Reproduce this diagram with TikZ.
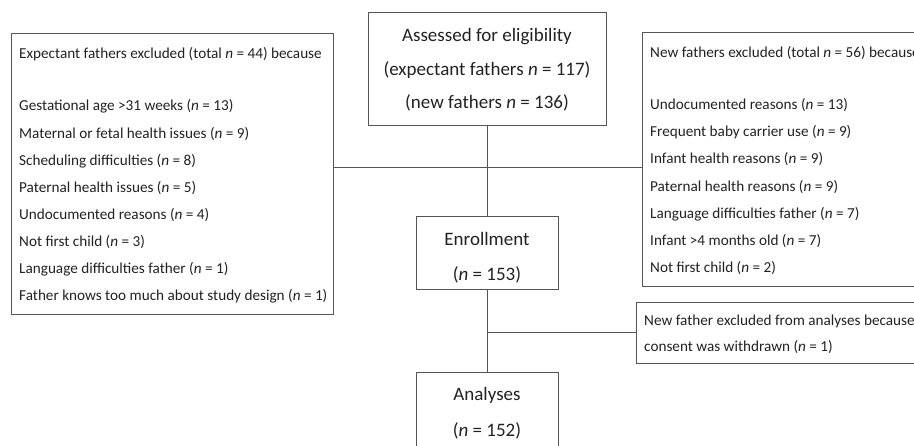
\documentclass[tikz,border=0pt]{standalone}
\usepackage{fontspec}
\setmainfont{Carlito}
\definecolor{linec}{HTML}{555555}
\definecolor{textc}{HTML}{222222}
\begin{document}
\begin{tikzpicture}[x=1pt,y=-1pt,
  boxstyle/.style={draw=linec,line width=0.9pt,inner sep=0pt,anchor=north west},
  conn/.style={draw=linec,line width=0.9pt},
  listtxt/.style={anchor=west,inner sep=0pt,text=textc,font=\fontsize{15.2}{17}\selectfont},
  midtxt/.style={anchor=center,inner sep=0pt,text=textc,font=\fontsize{19}{22}\selectfont}]
\useasboundingbox[fill=white] (0,0) rectangle (914,445);
% boxes
\node[boxstyle,minimum width=322pt,minimum height=281pt] (left) at (11,33) {};
\node[boxstyle,minimum width=290pt,minimum height=254pt] (right) at (642,32) {};
\node[boxstyle,minimum width=238pt,minimum height=113pt] (top) at (368,12) {};
\node[boxstyle,minimum width=142pt,minimum height=73pt] (enr) at (416,216) {};
\node[boxstyle,minimum width=296pt,minimum height=61pt] (wd) at (636,302) {};
\node[boxstyle,minimum width=142pt,minimum height=90pt] (ana) at (416,372) {};
% junctions
\coordinate (j1) at (487,167);
\coordinate (j2) at (487,332);
% connectors
\draw[conn] (top.south) -- (enr.north);
\draw[conn] (left.east |- j1) -- (right.west |- j1);
\draw[conn] (enr.south) -- (ana.north);
\draw[conn] (j2) -- (wd.west |- j2);
% top box text
\node[midtxt] (t1) at (487,37) {Assessed for eligibility};
\node[midtxt] (t2) at (487,70) {(expectant fathers \textit{n} = 117)};
\node[midtxt] (t3) at (487,103) {(new fathers \textit{n} = 136)};
% enrollment
\node[midtxt] (e1) at (487,239) {Enrollment};
\node[midtxt] (e2) at (487,275) {(\textit{n} = 153)};
% analyses
\node[midtxt] (a1) at (487,395) {Analyses};
\node[midtxt] (a2) at (487,431) {(\textit{n} = 152)};
% left list
\node[listtxt] (l0) at (19,54) {Expectant fathers excluded (total \textit{n} = 44) because};
\node[listtxt] (l1) at (19,106.7) {Gestational age >31 weeks (\textit{n} = 13)};
\node[listtxt] (l2) at (19,133.8) {Maternal or fetal health issues (\textit{n} = 9)};
\node[listtxt] (l3) at (19,160.9) {Scheduling difficulties (\textit{n} = 8)};
\node[listtxt] (l4) at (19,188) {Paternal health issues (\textit{n} = 5)};
\node[listtxt] (l5) at (19,215.1) {Undocumented reasons (\textit{n} = 4)};
\node[listtxt] (l6) at (19,242.2) {Not first child (\textit{n} = 3)};
\node[listtxt] (l7) at (19,269.3) {Language difficulties father (\textit{n} = 1)};
\node[listtxt] (l8) at (19,296.4) {Father knows too much about study design (\textit{n} = 1)};
% right list
\node[listtxt] (r0) at (650,53) {New fathers excluded (total \textit{n} = 56) because};
\node[listtxt] (r1) at (650,105) {Undocumented reasons (\textit{n} = 13)};
\node[listtxt] (r2) at (650,132.2) {Frequent baby carrier use (\textit{n} = 9)};
\node[listtxt] (r3) at (650,159.4) {Infant health reasons (\textit{n} = 9)};
\node[listtxt] (r4) at (650,186.6) {Paternal health reasons (\textit{n} = 9)};
\node[listtxt] (r5) at (650,213.8) {Language difficulties father (\textit{n} = 7)};
\node[listtxt] (r6) at (650,241) {Infant >4 months old (\textit{n} = 7)};
\node[listtxt] (r7) at (650,268.2) {Not first child (\textit{n} = 2)};
% withdrawal
\node[listtxt] (w1) at (644,321) {New father excluded from analyses because};
\node[listtxt] (w2) at (644,347) {consent was withdrawn (\textit{n} = 1)};
\end{tikzpicture}
\end{document}
